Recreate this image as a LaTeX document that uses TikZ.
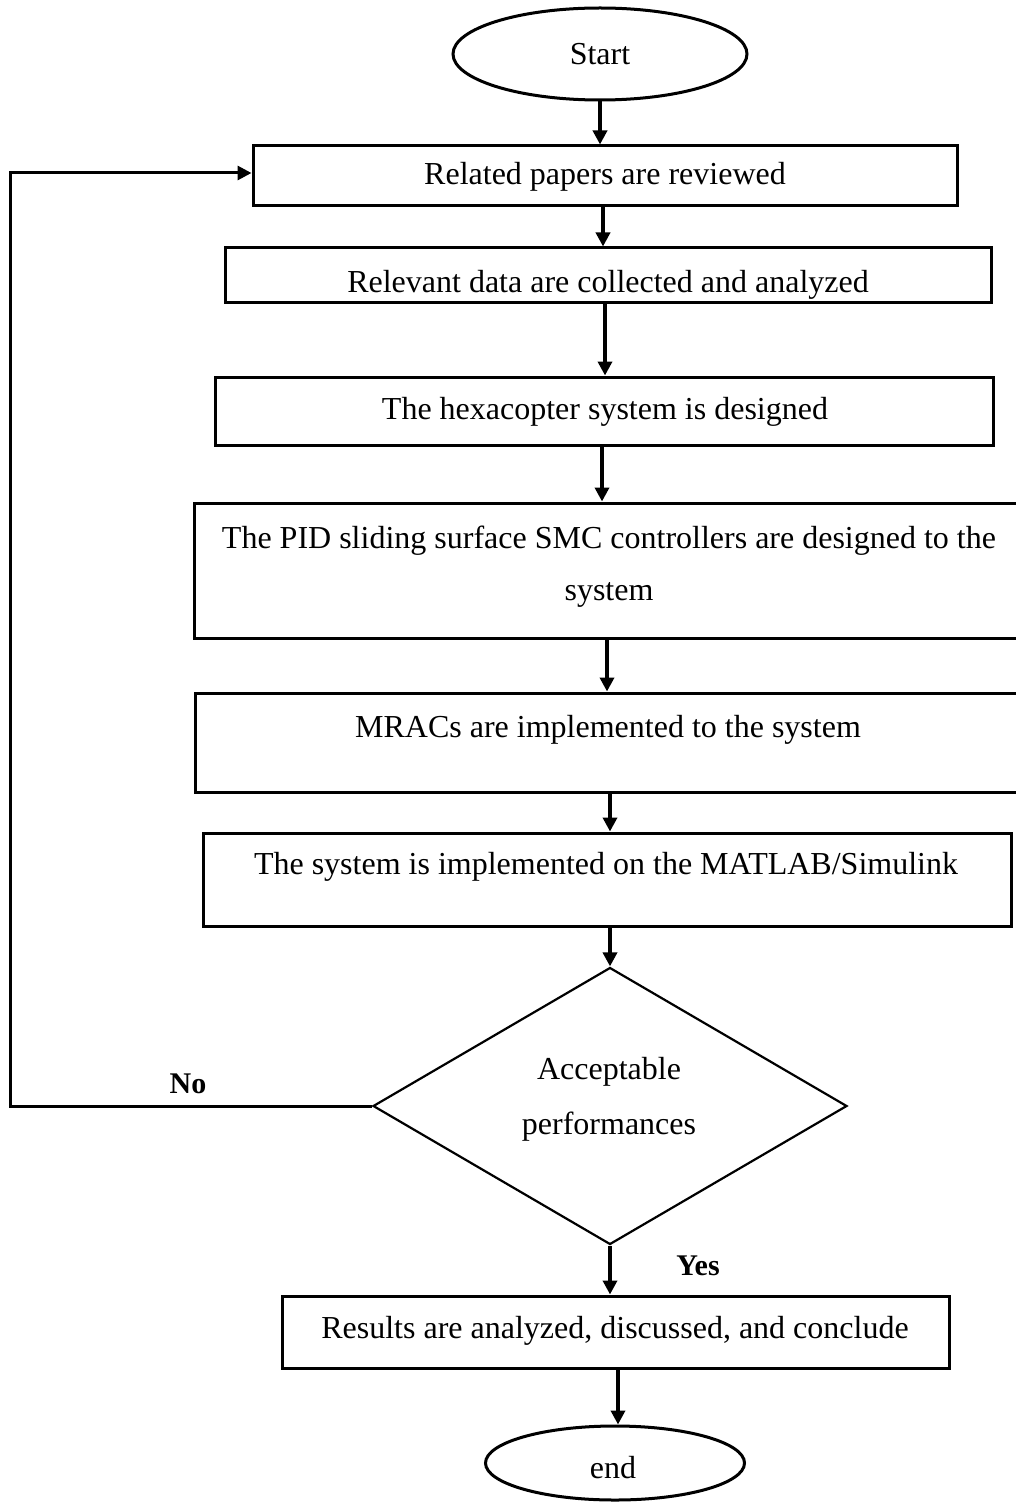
\documentclass[tikz,border=0pt]{standalone}
\usepackage{fontspec}
\setmainfont{Liberation Serif}
\usetikzlibrary{shapes.geometric,arrows.meta}
\begin{document}
\begin{tikzpicture}[x=1pt,y=-1pt,
  txt/.style={font=\fontsize{32}{38}\selectfont, inner sep=0pt, anchor=base},
  lbl/.style={font=\fontsize{30}{36}\selectfont\bfseries, inner sep=0pt, anchor=base},
  stepbox/.style={draw, line width=3pt, rectangle, inner sep=0pt},
  term/.style={draw, line width=3pt, ellipse, inner sep=0pt},
  decision/.style={draw, line width=2.2pt, diamond, inner sep=0pt},
  flow/.style={line width=3.5pt, -{Triangle[length=14pt,width=14pt]}},
  back/.style={line width=3pt, -{Triangle[length=14pt,width=14pt]}}
]
\useasboundingbox (0,0) rectangle (1016,1503);
\clip (0,0) rectangle (1016,1503);

% terminals
\node[term, minimum width=294pt, minimum height=92pt] (start) at (600,54) {};
\node[txt] (startT) at (600,65) {Start};
\node[term, minimum width=259pt, minimum height=74pt] (stop) at (615,1463) {};
\node[txt] (stopT) at (613,1478) {end};

% process steps
\node[stepbox, minimum width=704pt, minimum height=60pt] (b1) at (605,176) {};
\node[txt] (t1) at (605,185) {Related papers are reviewed};

\node[stepbox, minimum width=766pt, minimum height=55pt] (b2) at (608,275.5) {};
\node[txt] (t2) at (608,293) {Relevant data are collected and analyzed};

\node[stepbox, minimum width=778pt, minimum height=68pt] (b3) at (604,411) {};
\node[txt] (t3) at (605,419) {The hexacopter system is designed};

\node[stepbox, minimum width=840pt, minimum height=135pt] (b4) at (614,570.5) {};
\node[txt] (t4a) at (609,548) {The PID sliding surface SMC controllers are designed to the};
\node[txt] (t4b) at (609,600) {system};

\node[stepbox, minimum width=839pt, minimum height=99pt] (b5) at (614.5,742.5) {};
\node[txt] (t5) at (608,737) {MRACs are implemented to the system};

\node[stepbox, minimum width=808pt, minimum height=93pt] (b6) at (607,879.5) {};
\node[txt] (t6) at (606,874) {The system is implemented on the MATLAB/Simulink};

\node[decision, minimum width=474pt, minimum height=277pt] (dec) at (610,1106) {};
\node[txt] (td1) at (609,1079) {Acceptable};
\node[txt] (td2) at (609,1134) {performances};

\node[stepbox, minimum width=667pt, minimum height=72pt] (b7) at (615.5,1332) {};
\node[txt] (t7) at (615,1338) {Results are analyzed, discussed, and conclude};

% branch labels
\node[lbl] (no) at (188,1093) {No};
\node[lbl] (yes) at (698,1275) {Yes};

% connectors
\draw[flow] (start.south) -- (start.south |- b1.north);
\draw[flow] ([xshift=-2pt]b1.south) -- ([xshift=-2pt]b1.south |- b2.north);
\draw[flow] ([xshift=-3pt]b2.south) -- ([xshift=-3pt]b2.south |- b3.north);
\draw[flow] ([xshift=-2pt]b3.south) -- ([xshift=-2pt]b3.south |- b4.north);
\draw[flow] ([xshift=-7pt]b4.south) -- ([xshift=-7pt]b4.south |- b5.north);
\draw[flow] ([xshift=-4.5pt]b5.south) -- ([xshift=-4.5pt]b5.south |- b6.north);
\draw[flow] (b6.south -| dec.north) -- (dec.north);
\draw[flow] (dec.south) -- (dec.south |- b7.north);
\draw[flow] ([xshift=2.5pt]b7.south) -- ([xshift=2.5pt]b7.south |- stop.north);
\draw[back] (dec.west) -- ++(-361,0) |- ([yshift=3pt]b1.west);
\end{tikzpicture}
\end{document}
